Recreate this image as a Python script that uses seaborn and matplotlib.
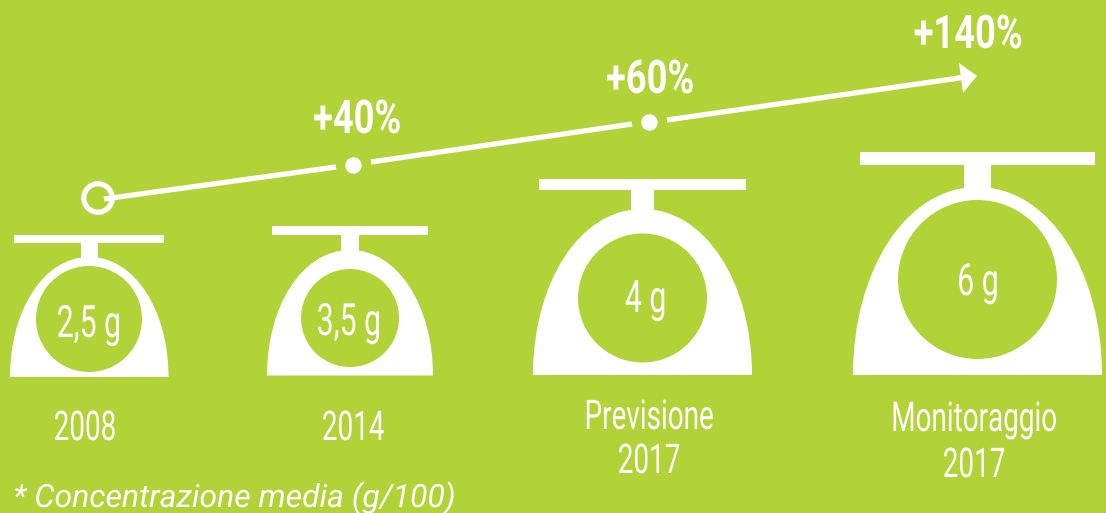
import matplotlib
matplotlib.use("Agg")
import matplotlib.pyplot as plt
from matplotlib.patches import Circle, PathPatch, Polygon, Rectangle
from matplotlib.path import Path
from matplotlib.patheffects import AbstractPathEffect
from matplotlib.transforms import Affine2D
import seaborn as sns

# Data
categories = ["2008", "2014", "Previsione\n2017", "Monitoraggio\n2017"]
grams = ["2,5 g", "3,5 g", "4 g", "6 g"]
increases = ["", "+40%", "+60%", "+140%"]
footnote = "* Concentrazione media (g/100)"

# Layout of the pictograms, in pixels of the picture
base_left = [10, 267, 533, 853]
base_right = [168.5, 433, 752, 1102]
base_y = [377, 375.5, 375, 375]
plate_left = [14, 272, 539, 860]
plate_right = [164, 428, 746, 1095]
plate_top = [235, 226, 179, 152]
plate_bottom = [243, 235, 190, 165]
stem_left = [81, 341, 631, 964]
stem_right = [98, 359, 654, 991]
dome_top = [257, 250, 209, 187]
hole_x = [89, 350, 642.5, 977.5]
hole_y = [319, 318, 298, 279.5]
hole_r = [53, 49, 64.5, 79.5]

trend_x = [98, 353, 649]
trend_y = [198, 164.5, 122]
line_x = [[104, 336], [371, 632], [667, 966]]
line_y = [[199, 167], [162, 124], [120, 77]]
arrow_head = [(977, 76), (959, 63), (963, 93)]

gram_x = [89, 349, 646, 978]
gram_y = [337, 335, 312, 295]
label_x = [85, 353, 649, 974]
label_y = [[440], [440], [429, 473], [431, 477]]
inc_x = [0, 357, 650, 968]
inc_y = [0, 133, 93, 48]

GREEN = "#B1D338"
WHITE = "#FFFFFF"

sns.set_theme(style="white")
plt.rcParams["font.family"] = ["Roboto", "DejaVu Sans"]

fig, ax = plt.subplots(figsize=(11.06, 5.13), dpi=100, facecolor=GREEN)
fig.subplots_adjust(0, 0, 1, 1)
ax.set_facecolor(GREEN)


class Squeeze(AbstractPathEffect):
    # the reference font is condensed and no condensed family is installed
    def __init__(self, sx):
        super().__init__()
        self.sx = sx

    def draw_path(self, renderer, gc, tpath, affine, rgbFace=None):
        ext = tpath.get_extents()
        mid = (ext.x0 + ext.x1) / 2
        squeeze = Affine2D().translate(-mid, 0).scale(self.sx, 1).translate(mid, 0)
        renderer.draw_path(gc, tpath, squeeze + affine, rgbFace)


def put_text(x, y, s, size, sx, **kw):
    ax.text(x, y, s, color=WHITE, fontsize=size, ha="center", va="baseline",
            path_effects=[Squeeze(sx)], **kw)


def draw_scale(i):
    cx = (base_left[i] + base_right[i]) / 2
    l, r = base_left[i], base_right[i]
    b, t = base_y[i], dome_top[i]
    h = b - t
    w = (r - l) / 2
    verts = [(l, b),
             (l, b - 0.55 * h), (cx - 0.58 * w, t), (cx, t),
             (cx + 0.58 * w, t), (r, b - 0.55 * h), (r, b),
             (l, b)]
    codes = [Path.MOVETO, Path.CURVE4, Path.CURVE4, Path.CURVE4,
             Path.CURVE4, Path.CURVE4, Path.CURVE4, Path.CLOSEPOLY]
    ax.add_patch(PathPatch(Path(verts, codes), fc=WHITE, ec="none"))
    ax.add_patch(Rectangle((stem_left[i], plate_top[i]), stem_right[i] - stem_left[i],
                           t + 6 - plate_top[i], fc=WHITE, ec="none"))
    ax.add_patch(Rectangle((plate_left[i], plate_top[i]), plate_right[i] - plate_left[i],
                           plate_bottom[i] - plate_top[i], fc=WHITE, ec="none"))
    ax.add_patch(Circle((hole_x[i], hole_y[i]), hole_r[i], fc=GREEN, ec="none"))


for i in range(len(categories)):
    draw_scale(i)
    put_text(gram_x[i], gram_y[i], grams[i], 32, 0.68)
    for line, y in zip(categories[i].split("\n"), label_y[i]):
        put_text(label_x[i], y, line, 29.5, 0.68)
    if increases[i]:
        put_text(inc_x[i], inc_y[i], increases[i], 33.5, 0.78, fontweight="bold")

# Trend line, with gaps around the dots
for xs, ys in zip(line_x, line_y):
    sns.lineplot(x=xs, y=ys, ax=ax, color=WHITE, linewidth=3.8, sort=False,
                 estimator=None, solid_capstyle="butt", legend=False)
ax.add_patch(Polygon(arrow_head, closed=True, fc=WHITE, ec="none"))

ax.add_patch(Circle((trend_x[0], trend_y[0]), 14.2, fc="none", ec=WHITE, lw=3.8))
sns.scatterplot(x=trend_x[1:], y=trend_y[1:], ax=ax, color=WHITE, s=140, linewidth=0, legend=False)

put_text(235, 507, footnote, 23, 1.0, fontstyle="italic")

ax.set_xlim(0, 1106)
ax.set_ylim(513, 0)
ax.axis("off")

fig.savefig("out.png", dpi=100, facecolor=GREEN)
